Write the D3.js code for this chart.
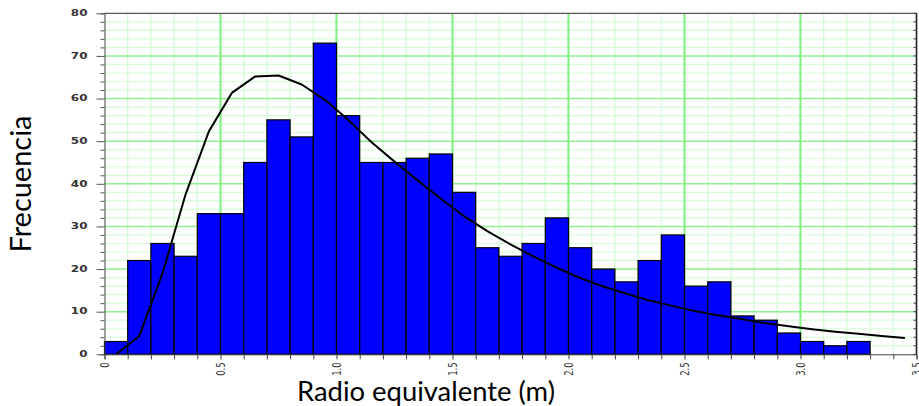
<!DOCTYPE html>
<html>
<head>
<meta charset="utf-8">
<script src="https://cdn.jsdelivr.net/npm/d3@7"></script>
<style>
  html, body { margin: 0; padding: 0; background: #fff; }
  svg { display: block; }
</style>
</head>
<body>
<svg id="chart" width="919" height="406"></svg>
<script>
// ---- Data ----
const binStarts = [0.0,0.1,0.2,0.3,0.4,0.5,0.6,0.7,0.8,0.9,1.0,1.1,1.2,1.3,1.4,1.5,1.6,1.7,1.8,1.9,2.0,2.1,2.2,2.3,2.4,2.5,2.6,2.7,2.8,2.9,3.0,3.1,3.2];
const binWidth = 0.1;
const frequencies = [3,22,26,23,33,33,45,55,51,73,56,45,45,46,47,38,25,23,26,32,25,20,17,22,28,16,17,9,8,5,3,2,3];
const curveX = [0.05,0.15,0.25,0.35,0.45,0.55,0.65,0.75,0.85,0.95,1.05,1.15,1.25,1.35,1.45,1.55,1.65,1.75,1.85,1.95,2.05,2.15,2.25,2.35,2.45,2.55,2.65,2.75,2.85,2.95,3.05,3.15,3.25,3.35,3.45];
const curveY = [0,4.3,19,37.6,52.3,61.4,65.2,65.4,63.3,59.7,55,49.8,45.2,40.8,36.5,32.4,28.9,25.8,22.9,20.3,17.9,15.9,14.2,12.6,11.3,10.1,9.1,8.2,7.3,6.6,5.9,5.3,4.8,4.3,3.8];
const xTickValues = [0,0.5,1.0,1.5,2.0,2.5,3.0,3.5];
const xTickLabels = ["0","0.5","1.0","1.5","2.0","2.5","3.0","3.5"];
const yTickValues = [0,10,20,30,40,50,60,70,80];
const yTickLabels = ["0","10","20","30","40","50","60","70","80"];
const xTitle = "Radio equivalente (m)";
const yTitle = "Frecuencia";

// ---- Layout ----
const svg = d3.select("#chart");
const L = 104.5, R = 916.5, T = 13.3, B = 354.3;
const x = d3.scaleLinear().domain([0, 3.5]).range([L, R]);
const y = d3.scaleLinear().domain([0, 80]).range([B, T]);

// grid
const grid = svg.append("g");
const minorX = d3.range(0, 35.01, 1).map(d => d / 10).filter(d => Math.round(d*10) % 5 !== 0);
const minorY = d3.range(0, 81, 2).filter(d => d % 10 !== 0);
grid.selectAll(".mx").data(minorX).join("line")
  .attr("x1", d => x(d)).attr("x2", d => x(d)).attr("y1", T).attr("y2", B)
  .attr("stroke", "#d6fbd6").attr("stroke-width", 1.4);
grid.selectAll(".my").data(minorY).join("line")
  .attr("x1", L).attr("x2", R).attr("y1", d => y(d)).attr("y2", d => y(d))
  .attr("stroke", "#d6fbd6").attr("stroke-width", 1.2);
grid.selectAll(".My").data(yTickValues.slice(1, -1)).join("line")
  .attr("x1", L).attr("x2", R).attr("y1", d => y(d)).attr("y2", d => y(d))
  .attr("stroke", "#8ef08e").attr("stroke-width", 1.4);
grid.selectAll(".Mx").data(xTickValues.slice(1, -1)).join("line")
  .attr("x1", d => x(d)).attr("x2", d => x(d)).attr("y1", T).attr("y2", B)
  .attr("stroke", "#86f086").attr("stroke-width", 2.2);

// bars
svg.append("g").selectAll("rect").data(binStarts).join("rect")
  .attr("x", d => x(d))
  .attr("width", d => x(d + binWidth) - x(d))
  .attr("y", (d, i) => y(frequencies[i]))
  .attr("height", (d, i) => B - y(frequencies[i]))
  .attr("fill", "#0000ff").attr("stroke", "#000").attr("stroke-width", 1.2);

// curve
const line = d3.line().x(d => x(d[0])).y(d => y(d[1]));
svg.append("path").datum(curveX.map((d, i) => [d, curveY[i]]))
  .attr("d", line).attr("fill", "none").attr("stroke", "#000").attr("stroke-width", 2)
  .attr("stroke-linejoin", "round");

// frame (top and right)
svg.append("line").attr("x1", L).attr("x2", R).attr("y1", T).attr("y2", T)
  .attr("stroke", "#555").attr("stroke-width", 1.2);
svg.append("line").attr("x1", R).attr("x2", R).attr("y1", T).attr("y2", B)
  .attr("stroke", "#222").attr("stroke-width", 1.6);
svg.append("g").selectAll("line").data(d3.range(0, 81, 2)).join("line")
  .attr("x1", R - 3).attr("x2", R).attr("y1", d => y(d)).attr("y2", d => y(d))
  .attr("stroke", "#444").attr("stroke-width", 1);

// y axis
const yAxis = svg.append("g").attr("transform", `translate(${L},0)`)
  .call(d3.axisLeft(y).tickValues(d3.range(0, 81, 2)).tickSize(4).tickFormat(""));
yAxis.select(".domain").attr("stroke", "#444");
yAxis.selectAll(".tick line").attr("stroke", "#555");
yAxis.selectAll(".tick").filter(d => d % 10 === 0).select("line").attr("x2", -8);
yAxis.selectAll(".ylab").data(yTickValues).join("text")
  .attr("transform", d => `translate(-17,${y(d)}) scale(1.5,1)`)
  .attr("text-anchor", "end").attr("dy", "0.35em")
  .attr("font-family", "DejaVu Sans").attr("font-weight", "bold").attr("font-size", 8)
  .attr("fill", "#333")
  .text((d, i) => yTickLabels[i]);

// x axis
const xAxis = svg.append("g").attr("transform", `translate(0,${B})`)
  .call(d3.axisBottom(x).tickValues(d3.range(0, 35.01, 1).map(d => d / 10)).tickSize(5).tickFormat(""));
xAxis.select(".domain").attr("stroke", "#444");
xAxis.selectAll(".tick line").attr("stroke", "#444");
xAxis.selectAll(".xlab").data(xTickValues).join("text")
  .attr("transform", d => `translate(${x(d)},8) scale(1.5,1) rotate(-90)`)
  .attr("text-anchor", "end").attr("dy", "0.35em")
  .attr("font-family", "DejaVu Sans").attr("font-size", 8.5)
  .attr("fill", "#333")
  .text((d, i) => xTickLabels[i]);

// titles
function fit(sel, target) {
  const w = sel.node().getComputedTextLength();
  sel.attr("font-size", 20 * target / w);
}
const xt = svg.append("text").attr("x", 426).attr("y", 401)
  .attr("text-anchor", "middle").attr("font-family", "Lato").attr("font-size", 20)
  .attr("fill", "#000").text(xTitle);
fit(xt, 258);
const yt = svg.append("text").attr("transform", "translate(31,184) rotate(-90)")
  .attr("text-anchor", "middle").attr("font-family", "Lato").attr("font-size", 20)
  .attr("fill", "#000").text(yTitle);
fit(yt, 137);
</script>
</body>
</html>
